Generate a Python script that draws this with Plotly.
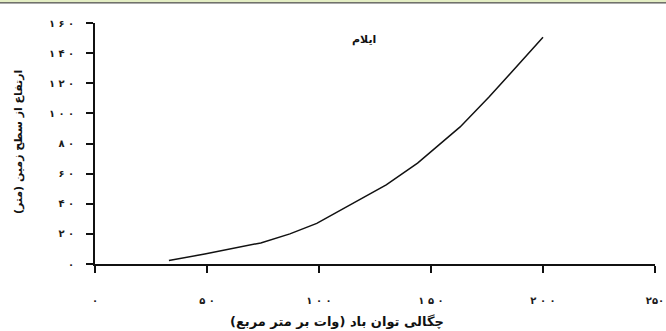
import plotly.graph_objects as go

# Data
power_density = [33, 49, 74, 87, 99, 118, 130, 144, 163, 176, 200]
height = [2.4, 6.6, 14, 20, 27, 42.6, 52.5, 67, 91, 111, 150.5]

x_tickvals = [0, 50, 100, 150, 200, 250]
x_ticktext = ["۰", "۵ ۰", "۱ ۰ ۰", "۱ ۵ ۰", "۲ ۰ ۰", "۲۵۰"]
y_tickvals = [0, 20, 40, 60, 80, 100, 120, 140, 160]
y_ticktext = ["۰", "۲ ۰", "۴ ۰", "۶ ۰", "۸ ۰", "۱ ۰ ۰", "۱ ۲ ۰", "۱ ۴ ۰", "۱ ۶ ۰"]

title_text = "ایلام"
x_label = "چگالی توان باد (وات بر متر مربع)"
y_label = "ارتفاع از سطح زمین (متر)"

FONT = "DejaVu Sans"

fig = go.Figure()
fig.add_trace(go.Scatter(
    x=power_density, y=height, mode="lines",
    line=dict(color="#111111", width=1.5),
    showlegend=False, hoverinfo="skip",
))

axis_common = dict(
    showline=True, linecolor="#111111", linewidth=1.6,
    ticks="outside", ticklen=7, tickwidth=1.6, tickcolor="#111111",
    showgrid=False, zeroline=False, automargin=False,
    ticklabeloverflow="allow",
    tickfont=dict(family=FONT, size=10, color="#1a1a1a", weight="bold"),
)

fig.update_layout(
    width=666, height=331,
    margin=dict(l=95, r=11, t=23, b=67, autoexpand=False),
    paper_bgcolor="white", plot_bgcolor="white",
    xaxis=dict(range=[0, 250], tickvals=x_tickvals, ticktext=x_ticktext,
               ticklabelstandoff=19, **axis_common),
    yaxis=dict(range=[0, 160], tickvals=y_tickvals, ticktext=y_ticktext,
               ticklabelstandoff=10, **axis_common),
    annotations=[
        dict(text=title_text, x=0.48, y=0.9325, xref="paper", yref="paper",
             xanchor="center", yanchor="middle", showarrow=False,
             font=dict(family=FONT, size=11, color="#111111", weight="bold")),
        dict(text=x_label, x=0.432, y=-0.24, xref="paper", yref="paper",
             xanchor="center", yanchor="middle", showarrow=False,
             font=dict(family=FONT, size=13, color="#111111", weight="bold")),
        dict(text=y_label, x=-0.1375, y=0.506, xref="paper", yref="paper",
             xanchor="center", yanchor="middle", textangle=-90, showarrow=False,
             font=dict(family=FONT, size=11, color="#111111", weight="bold")),
    ],
    shapes=[
        dict(type="rect", xref="paper", yref="paper", x0=-0.18, x1=1.03,
             y0=1.0855, y1=1.1, fillcolor="#e4eec4", line=dict(width=0), layer="below"),
        dict(type="line", xref="paper", yref="paper", x0=-0.18, x1=1.03,
             y0=1.0835, y1=1.0835, line=dict(color="#222222", width=1)),
    ],
)

fig.write_html("out.html", config={"displayModeBar": False},
               post_script="document.body.style.margin='0';document.body.style.padding='0';")
